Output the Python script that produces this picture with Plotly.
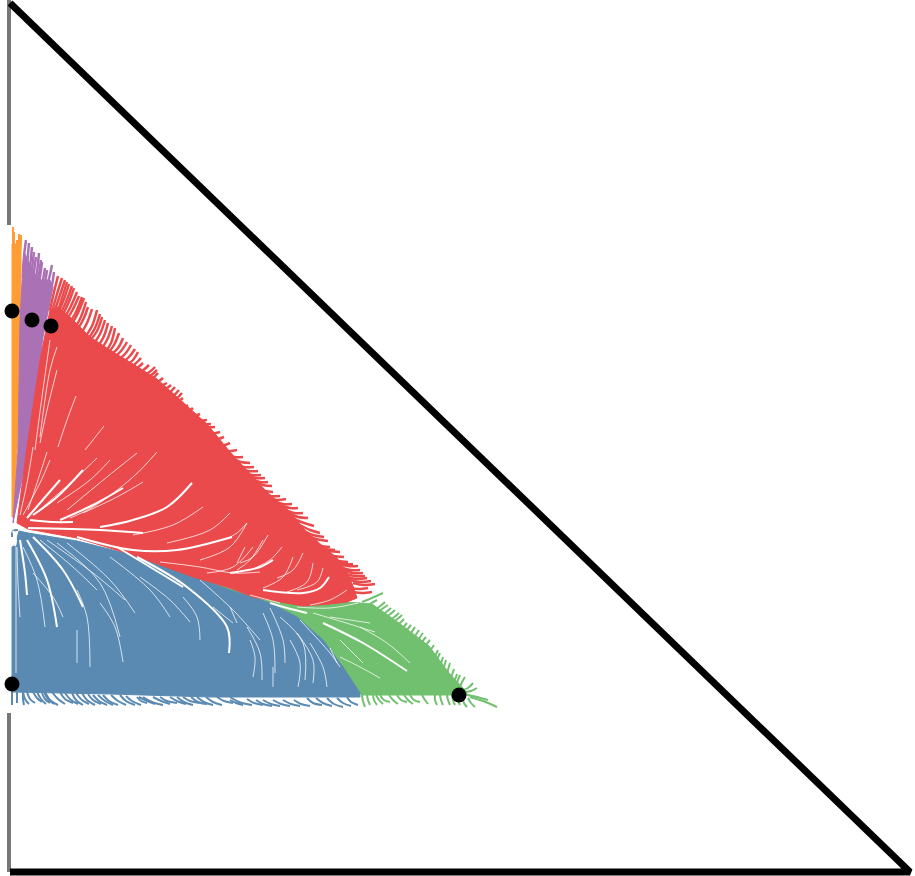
import plotly.graph_objects as go

# corners of the simplex
frame_x = [0, 900, 0]
frame_y = [869, 0, 0]
edge_top_x = [-1, -1]
edge_top_y = [647, 872]
edge_bottom_x = [-1, -1]
edge_bottom_y = [159, 0]

# end points
point_x = [2, 22, 41, 2, 449]
point_y = [561, 552, 546, 188, 177]

# solid bodies of the basins
orange_x = [2, 2, 11, 11, 10, 7, 7, 5, 3, 2]
orange_y = [355, 628, 628, 600, 539, 422, 429, 375, 355, 355]
purple_x = [3, 8, 10, 13, 15, 22, 30, 40, 43, 33, 19, 3]
purple_y = [349, 422, 549, 610, 618, 602, 592, 592, 585, 535, 427, 349]
red_x = [7, 18, 30, 40, 48, 60, 80, 100, 123, 147, 167, 197, 220, 237, 257, 278, 295, 308, 327, 337, 343, 347,
         337, 320, 293, 270, 243, 220, 183, 123, 67, 18, 7]
red_y = [349, 432, 512, 562, 565, 555, 535, 522, 508, 493, 475, 448, 420, 402, 380, 362, 342, 330, 314, 300, 286, 274,
         270, 268, 266, 270, 275, 284, 295, 317, 334, 343, 349]
blue_x = [2, 2, 5, 9, 18, 67, 123, 183, 220, 260, 287, 313, 333, 350, 350, 200, 100, 2]
blue_y = [180, 325, 327, 341, 339, 331, 317, 295, 282, 269, 255, 232, 205, 179, 175, 175, 178, 180]
green_x = [183, 220, 243, 270, 293, 320, 337, 362, 389, 419, 439, 453, 458, 352, 350, 333, 313, 287, 260, 220, 183]
green_y = [295, 284, 275, 270, 266, 268, 270, 268, 249, 226, 199, 184, 177, 177, 179, 205, 232, 255, 269, 282, 295]

# loose trajectory ends: x, y of tip, middle, base
orange_hairs = [(3, 645, 3, 635, 3, 620), (4, 640, 4, 632, 4, 620), (7, 632, 7, 628, 7, 620), (9, 638, 9, 630, 9, 620),
                (11, 637, 11, 630, 10, 620)]
purple_hairs = [
    (16, 632, 14, 615, 13, 595), (19, 629, 17, 605, 16, 585), (22, 625, 20, 605, 18, 585),
    (24, 620, 22, 603, 20, 585), (26, 615, 24, 600, 22, 582), (29, 619, 27, 600, 24, 582),
    (31, 612, 29, 598, 26, 582), (32, 610, 30, 595, 28, 579), (35, 604, 33, 592, 30, 578),
    (37, 602, 35, 589, 32, 575), (42, 607, 39, 593, 35, 579), (44, 600, 42, 587, 38, 572),
]
red_hairs = [
    (48, 596, 44, 580, 40, 562), (55, 592, 50, 577, 45, 562), (59, 588, 54, 573, 48, 559),
    (64, 584, 58, 568, 50, 552), (69, 576, 62, 561, 53, 547), (74, 574, 67, 557, 58, 542),
    (78, 565, 73, 552, 65, 539), (87, 562, 82, 546, 73, 532), (92, 555, 87, 541, 78, 529),
    (98, 549, 94, 536, 87, 524), (105, 544, 101, 529, 92, 515), (113, 534, 108, 524, 98, 515),
    (121, 527, 115, 518, 105, 510), (128, 520, 123, 512, 113, 505), (133, 509, 127, 504, 117, 500),
    (145, 505, 138, 499, 127, 495), (148, 499, 142, 493, 133, 489), (157, 489, 150, 486, 140, 485),
    (165, 485, 159, 479, 150, 475), (172, 479, 166, 473, 157, 469), (173, 470, 167, 467, 160, 465),
    (183, 464, 176, 459, 167, 457), (197, 452, 185, 451, 173, 454), (205, 445, 195, 445, 183, 449),
    (214, 435, 204, 432, 193, 432), (227, 422, 218, 421, 210, 425), (240, 409, 231, 410, 220, 414),
    (248, 401, 238, 401, 227, 405), (255, 394, 246, 394, 237, 397), (262, 386, 253, 387, 243, 392),
    (263, 380, 255, 381, 247, 384), (276, 373, 266, 372, 257, 375), (288, 364, 280, 364, 270, 367),
    (298, 354, 288, 355, 278, 359), (310, 339, 300, 342, 290, 347), (318, 331, 306, 333, 295, 337),
    (320, 325, 310, 326, 300, 329), (330, 320, 319, 321, 308, 324), (338, 310, 328, 311, 317, 315),
    (348, 306, 338, 306, 327, 309), (353, 299, 343, 299, 333, 302), (357, 294, 347, 293, 337, 295),
    (365, 288, 354, 287, 343, 289), (362, 280, 352, 279, 343, 280),
    (52, 594, 47, 578, 42, 560), (57, 590, 52, 574, 47, 558), (62, 586, 56, 570, 49, 555),
    (67, 580, 60, 564, 52, 550), (72, 575, 65, 558, 56, 545), (76, 570, 70, 553, 62, 540),
    (82, 563, 77, 549, 69, 535), (90, 558, 85, 544, 76, 530), (95, 552, 90, 538, 82, 526),
    (102, 546, 97, 532, 89, 520), (109, 539, 104, 527, 95, 515), (117, 530, 111, 521, 101, 512),
    (125, 523, 119, 515, 109, 507), (131, 514, 125, 508, 115, 502), (139, 507, 132, 501, 122, 497),
    (147, 502, 140, 496, 130, 492), (153, 494, 146, 489, 136, 487), (161, 487, 154, 482, 145, 480),
    (169, 482, 163, 476, 153, 472), (173, 474, 167, 470, 158, 467), (178, 467, 171, 463, 163, 461),
    (190, 458, 180, 455, 170, 455), (201, 448, 190, 448, 178, 451), (210, 440, 200, 438, 188, 440),
    (220, 429, 211, 426, 201, 428), (233, 415, 224, 415, 215, 419), (244, 405, 234, 405, 223, 409),
    (251, 397, 242, 397, 232, 401), (258, 390, 250, 390, 240, 394), (270, 376, 260, 376, 252, 379),
    (282, 368, 273, 368, 263, 371), (293, 359, 284, 359, 274, 363), (304, 346, 294, 349, 284, 353),
    (314, 335, 303, 337, 292, 342), (325, 322, 314, 323, 304, 326), (334, 315, 323, 316, 312, 319),
    (343, 308, 333, 308, 322, 312), (350, 302, 340, 302, 330, 305), (355, 296, 345, 296, 335, 298),
    (361, 291, 350, 290, 340, 292), (358, 284, 348, 283, 340, 284),
]
blue_hairs = [
    (2, 167, 2, 175, 2, 182), (14, 167, 13, 173, 13, 180), (7, 169, 7, 175, 7, 182),
    (25, 169, 20, 173, 17, 180), (32, 170, 27, 174, 23, 180), (40, 169, 35, 173, 32, 179),
    (48, 167, 40, 172, 35, 180), (63, 169, 55, 173, 50, 180), (73, 167, 66, 172, 62, 179),
    (85, 167, 77, 172, 72, 179), (97, 167, 89, 171, 83, 177), (108, 167, 99, 171, 93, 177),
    (125, 167, 116, 171, 110, 177), (137, 169, 131, 171, 127, 175), (153, 167, 142, 170, 133, 175),
    (167, 169, 157, 171, 150, 175), (190, 169, 180, 171, 173, 175), (203, 167, 194, 170, 187, 175),
    (223, 169, 214, 171, 207, 175), (242, 167, 229, 170, 220, 175), (233, 167, 226, 169, 220, 172),
    (253, 167, 244, 169, 237, 173), (270, 166, 261, 168, 253, 172), (290, 166, 281, 168, 273, 172),
    (312, 167, 303, 169, 297, 174), (333, 165, 324, 168, 317, 174), (348, 167, 341, 170, 337, 175),
    (2, 335, 3, 341, 8, 342),
    (19, 168, 15, 173, 13, 180), (36, 168, 31, 173, 27, 180), (44, 168, 38, 173, 34, 180),
    (55, 168, 48, 173, 42, 180), (68, 168, 61, 172, 55, 179), (79, 168, 72, 172, 66, 179),
    (91, 168, 83, 172, 78, 178), (103, 167, 95, 171, 88, 177), (116, 167, 108, 171, 101, 177),
    (131, 167, 122, 171, 116, 176), (145, 168, 137, 171, 129, 175), (160, 168, 151, 171, 143, 175),
    (176, 168, 167, 171, 160, 175), (183, 167, 174, 170, 167, 175), (197, 168, 188, 170, 181, 175),
    (212, 167, 203, 170, 196, 175), (262, 166, 253, 168, 246, 172), (280, 166, 271, 168, 263, 172),
    (300, 166, 291, 168, 284, 172), (322, 166, 313, 169, 306, 174), (341, 166, 333, 169, 327, 174),
]
green_hairs = [
    (373, 279, 362, 274, 352, 270), (367, 272, 360, 268, 355, 264), (378, 267, 372, 263, 367, 259),
    (385, 262, 379, 257, 373, 254), (392, 257, 386, 252, 380, 249), (397, 249, 393, 244, 390, 239),
    (405, 245, 401, 239, 397, 235), (413, 239, 409, 233, 407, 227), (420, 232, 416, 227, 413, 222),
    (428, 222, 425, 215, 423, 209), (433, 215, 431, 208, 430, 202), (440, 209, 438, 202, 437, 195),
    (450, 197, 448, 192, 447, 189), (455, 195, 452, 190, 450, 185), (467, 184, 461, 181, 455, 180),
    (463, 189, 458, 184, 453, 182), (487, 165, 473, 171, 460, 175), (478, 172, 467, 175, 457, 177),
    (355, 165, 353, 171, 352, 177), (367, 167, 364, 172, 363, 177), (380, 170, 374, 172, 370, 177),
    (397, 170, 391, 172, 387, 177), (410, 170, 404, 172, 400, 177), (427, 167, 425, 172, 425, 177),
    (440, 167, 438, 172, 437, 177), (450, 167, 448, 171, 447, 175), (457, 165, 454, 169, 453, 174),
    (465, 165, 461, 169, 458, 174),
    (375, 270, 369, 265, 362, 261), (381, 264, 375, 259, 369, 256), (389, 259, 383, 254, 376, 251),
    (394, 253, 389, 248, 384, 244), (401, 247, 396, 241, 392, 237), (409, 242, 405, 236, 401, 231),
    (416, 235, 412, 230, 409, 225), (424, 227, 420, 221, 417, 216), (430, 219, 427, 212, 425, 205),
    (436, 212, 434, 205, 432, 199), (444, 203, 442, 197, 440, 192), (447, 198, 445, 192, 443, 187),
    (360, 167, 358, 172, 357, 177), (373, 168, 369, 172, 366, 177), (388, 168, 383, 172, 379, 177),
    (403, 168, 398, 172, 394, 177), (418, 168, 415, 172, 412, 177), (433, 167, 431, 172, 430, 177),
    (445, 167, 443, 172, 442, 177),
]

# gaps between trajectories, drawn in white
wide_gaps = [
    [18, 344, 90, 342, 133, 339], [67, 335, 123, 322, 167, 322, 222, 335], [20, 352, 42, 350, 63, 350],
    [182, 389, 157, 365, 123, 352, 90, 345], [113, 384, 83, 367, 50, 352], [23, 357, 47, 375, 73, 402],
    [17, 354, 30, 369, 50, 392], [10, 332, 15, 299, 17, 277], [23, 335, 53, 302, 73, 265],
    [17, 332, 37, 292, 47, 245], [107, 325, 150, 299, 173, 285], [319, 295, 310, 284, 293, 279, 253, 282],
    [263, 312, 250, 305, 220, 299], [260, 269, 277, 264, 297, 259], [313, 249, 353, 229, 397, 201],
    [3, 341, 6, 332, 5, 326], [127, 315, 177, 285, 217, 245, 219, 219],
]
thin_gaps = [
    [147, 420, 123, 395, 83, 365, 60, 354], [133, 390, 107, 375, 73, 359], [40, 412, 30, 389, 13, 357],
    [127, 419, 97, 395, 57, 362], [220, 359, 200, 342, 157, 329], [193, 365, 163, 347, 123, 337],
    [250, 300, 223, 299, 190, 305, 150, 310], [23, 425, 17, 389, 10, 357], [37, 420, 27, 389, 18, 362],
    [237, 349, 220, 325, 190, 312], [100, 412, 80, 392, 47, 369], [40, 532, 32, 475, 25, 422],
    [47, 525, 40, 502, 30, 435], [47, 502, 37, 462, 30, 429], [66, 476, 57, 452, 48, 425],
    [94, 446, 83, 432, 75, 422], [313, 304, 307, 290, 287, 282], [337, 282, 320, 272, 300, 267],
    [237, 349, 227, 339, 220, 335], [272, 325, 260, 312, 247, 305], [293, 319, 283, 302, 267, 294],
    [258, 337, 243, 315, 230, 309], [7, 325, 8, 289, 10, 255], [13, 325, 27, 292, 35, 245],
    [23, 299, 43, 275, 53, 255], [67, 282, 77, 255, 80, 205], [30, 332, 63, 305, 87, 282],
    [37, 332, 83, 299, 115, 272], [57, 329, 100, 292, 125, 259], [47, 329, 90, 289, 110, 235],
    [90, 269, 105, 245, 113, 210], [100, 315, 140, 282, 160, 255], [130, 295, 160, 272, 180, 250],
    [173, 275, 187, 255, 190, 232], [203, 265, 223, 249], [190, 292, 223, 262, 250, 232],
    [67, 242, 67, 209], [6, 325, 6, 199], [260, 264, 273, 232, 275, 209], [253, 259, 263, 232, 265, 199],
    [220, 265, 227, 249], [270, 255, 293, 229, 295, 192], [290, 252, 320, 219, 330, 205],
    [287, 239, 303, 212, 303, 189], [237, 245, 250, 219, 252, 192], [303, 259, 333, 250, 365, 240],
    [320, 255, 340, 252, 360, 249], [330, 215, 350, 205, 370, 194], [320, 224, 327, 209],
    [287, 265, 320, 264, 348, 269], [270, 269, 240, 277],
    [235, 325, 227, 309], [253, 332, 240, 312, 227, 302], [283, 315, 273, 295, 253, 284],
    [303, 309, 297, 290, 277, 280], [87, 414, 67, 395, 33, 365], [243, 325, 223, 305, 197, 299],
    [240, 232, 245, 215, 243, 195], [280, 232, 290, 209, 288, 185], [300, 229, 313, 205, 317, 185],
    [263, 205, 263, 185], [330, 232, 353, 209], [350, 245, 377, 229, 400, 209],
]

ORANGE = "#FF9C33"
PURPLE = "#AA71B5"
RED = "#EA4A4B"
BLUE = "#5A8AB2"
GREEN = "#71C06F"


def flatten(paths):
    xs, ys = [], []
    for path in paths:
        xs.extend(path[0::2])
        ys.extend(path[1::2])
        xs.append(None)
        ys.append(None)
    return xs, ys


fig = go.Figure()

bodies = [
    (orange_x, orange_y, orange_hairs, ORANGE, 2),
    (purple_x, purple_y, purple_hairs, PURPLE, 2.5),
    (green_x, green_y, green_hairs, GREEN, 2),
    (blue_x, blue_y, blue_hairs, BLUE, 2),
    (red_x, red_y, red_hairs, RED, 2.5),
]
for xs, ys, hairs, color, width in bodies:
    fig.add_trace(go.Scatter(x=xs, y=ys, mode='lines', fill='toself', fillcolor=color,
                             line=dict(color=color, width=1), hoverinfo='skip'))
    hx, hy = flatten(hairs)
    fig.add_trace(go.Scatter(x=hx, y=hy, mode='lines', line=dict(color=color, width=width, shape='spline'),
                             hoverinfo='skip'))

gx, gy = flatten(wide_gaps)
fig.add_trace(go.Scatter(x=gx, y=gy, mode='lines', line=dict(color='white', width=2, shape='spline')))
gx, gy = flatten(thin_gaps)
fig.add_trace(go.Scatter(x=gx, y=gy, mode='lines', line=dict(color='rgba(255,255,255,0.75)', width=1, shape='spline')))

for xs, ys in [(edge_top_x, edge_top_y), (edge_bottom_x, edge_bottom_y)]:
    fig.add_trace(go.Scatter(x=xs, y=ys, mode='lines', line=dict(color='#777777', width=4)))
fig.add_trace(go.Scatter(x=frame_x, y=frame_y, mode='lines', line=dict(color='black', width=7)))
fig.add_trace(go.Scatter(x=point_x, y=point_y, mode='markers', marker=dict(color='black', size=15, line=dict(width=0))))

fig.update_layout(
    width=915,
    height=876,
    showlegend=False,
    margin=dict(l=0, r=0, t=0, b=0),
    paper_bgcolor='white',
    plot_bgcolor='white',
    xaxis=dict(range=[-10, 905], visible=False),
    yaxis=dict(range=[-4, 872], visible=False),
)
fig.update_traces(cliponaxis=False)

fig.write_html("out.html", config={'displayModeBar': False},
               post_script="document.body.style.margin='0';document.body.style.overflow='hidden';")
